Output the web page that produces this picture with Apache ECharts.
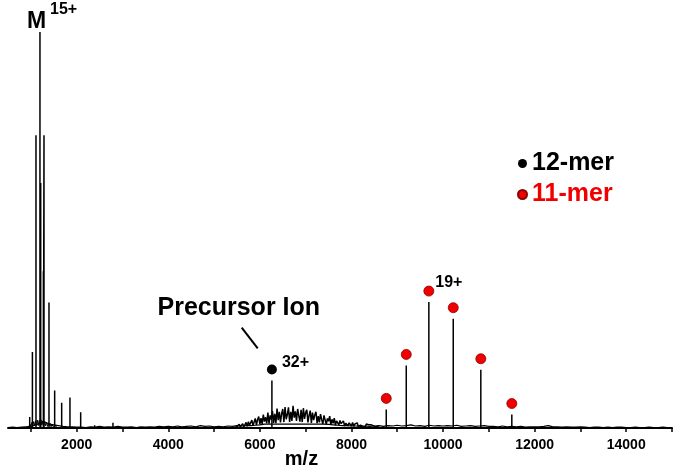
<!DOCTYPE html>
<html>
<head>
<meta charset="utf-8">
<script src="https://cdn.jsdelivr.net/npm/echarts@6/dist/echarts.min.js"></script>
<style>html,body{margin:0;padding:0;background:#fff;}#c{width:681px;height:474px;}</style>
</head>
<body>
<div id="c"></div>
<script>
// ---- data (intensity: % of tallest peak) ----
const xTicks = [1000,2000,3000,4000,5000,6000,7000,8000,9000,10000,11000,12000,13000,14000,15000];
const xTickLabels = [2000,4000,6000,8000,10000,12000,14000];
const xAxisTitle = 'm/z';

// discrete peaks [m/z, intensity]
const peaks = [[974,2.8],[1033,19.2],[1111,73.9],[1198,100],[1214,61.9],[1273,39.6],[1286,73.9],
  [1395,31.7],[1519,9.5],[1672,6.4],[1853,7.7],[2087,4.0],[2392,0.7],[2792,1.3],
  [6263,12.0],[8760,4.7],[9197,15.8],[9690,31.8],[10223,27.6],[10825,14.7],[11502,3.4]];

const dodecamerMz = [6263];                                  // 12-mer
const undecamerMz = [8760,9197,9690,10223,10825,11502];      // 11-mer
const chargeLabels = [[6263,'32+'],[9690,'19+']];

// baseline noise, every 100 from 500
const baseStart = 500, baseStep = 100;
const baseNoise = [0.1,0.2,0.1,0.2,0.3,0.4,
  0.8,1.2,1.5,1.0,0.8,0.6,0.4,0.3,0.3,0.2,
  0.2,0.1,0.3,0.2,0.4,0.2,0.3,0.2,0.4,0.2,
  0.2,0.3,0.1,0.3,0.2,0.3,0.2,0.4,0.3,0.4,
  0.3,0.5,0.3,0.4,0.5,0.3,0.6,0.4,0.5,0.3,
  0.4,0.3,0.5,0.4,0.6,0.5,0.6,0.6,0.7,0.8,
  1.0,1.0,1.0,1.0,1.0,1.0,1.0,1.0,1.0,1.0,
  1.0,1.0,1.0,1.0,0.9,0.8,0.7,0.6,0.6,0.5,
  0.5,0.4,0.5,0.4,0.5,0.6,0.4,0.6,0.5,0.7,
  0.5,0.6,0.8,0.5,0.6,0.4,0.7,0.5,0.6,0.5,
  0.6,0.5,0.7,0.4,0.5,0.6,0.4,0.5,0.6,0.4,
  0.4,0.3,0.5,0.3,0.4,0.3,0.4,0.2,0.3,0.3,
  0.3,0.4,0.6,0.3,0.3,0.2,0.3,0.2,0.2,0.3,
  0.2,0.1,0.2,0.2,0.1,0.2,0.1,0.2,0.2,0.1,
  0.1,0.2,0.1,0.1,0.2,0.1,0.1,0.2,0.1,0.1];

// low-mass chemical noise cluster, every 20 from 960
const clusterStart = 960, clusterStep = 20;
const clusterNoise = [0.4,1.0,0.3,1.4,0.5,1.6,0.6,1.8,0.7,2.0,0.6,1.9,0.8,2.1,0.7,1.8,
  0.5,1.7,0.6,1.5,0.4,1.3,0.5,1.2,0.3,1.0,0.4,0.8,0.3,0.6,0.2];

// broad hump under the precursor, every 25 from 5400
const humpStart = 5400, humpStep = 25;
const humpNoise = [0.2,0.5,0.1,0.6,0.4,0.2,0.9,0.3,0.5,
  1.1,0.3,0.8,1.4,0.4,1.6,0.7,0.9,
  2.0,0.6,1.5,2.4,0.8,2.1,2.9,0.9,
  2.5,1.0,3.4,1.6,2.7,1.2,3.9,1.1,
  3.2,2.1,4.3,1.3,3.6,1.2,4.9,2.0,
  4.1,1.4,3.6,4.8,1.5,5.3,2.2,3.4,
  5.2,1.5,4.1,1.8,5.6,2.6,4.2,1.8,
  4.8,3.1,1.6,4.6,1.5,5.0,2.3,3.9,
  4.6,1.4,3.2,4.4,1.3,3.9,2.0,3.3,
  4.1,1.2,3.0,1.4,3.5,2.1,1.0,3.2,
  2.8,0.9,2.4,1.7,3.0,0.8,2.2,1.2,
  2.5,0.7,1.8,2.2,0.8,1.9,1.1,0.6,
  1.8,0.5,1.2,1.7,0.6,1.3,0.9,0.5,
  1.4,0.4,1.0,0.6,1.3,0.4,0.9,0.7,
  1.1,0.4,0.7,0.3,1.0,0.5,0.8,0.3,
  0.8,0.3,0.6,0.5,0.3,0.6,0.3,0.2];

// ---- build series data ----
const toXY = (start, step, arr) => arr.map((v, i) => [start + i * step, v]);
const stickData = [];
peaks.forEach(([x, y]) => { stickData.push([x, 0], [x, y], [x, 0]); });
const intensityAt = mz => peaks.find(p => p[0] === mz)[1];
const labelFor = mz => { const l = chargeLabels.find(c => c[0] === mz); return l ? l[1] : null; };
const markData = mzs => mzs.map(mz => {
  const lab = labelFor(mz);
  const item = { value: [mz, intensityAt(mz)] };
  if (lab) item.label = { show: true, formatter: lab };
  return item;
});

const FONT = '"Liberation Sans", Arial, sans-serif';
const RED = '#f00000';
const chart = echarts.init(document.getElementById('c'));
chart.setOption({
  animation: false,
  backgroundColor: '#fff',
  grid: { left: 8, right: 9, top: 32, bottom: 46, containLabel: false, outerBoundsMode: 'none' },
  xAxis: {
    type: 'value', min: 500, max: 15000,
    axisLine: { show: true, onZero: false, lineStyle: { color: '#000', width: 2 } },
    axisTick: { show: true, customValues: xTicks, length: 4, lineStyle: { color: '#000', width: 1.5 } },
    axisLabel: { customValues: xTickLabels, formatter: v => String(v), fontFamily: FONT, fontWeight: 'bold', fontSize: 14, color: '#000', margin: 10 },
    splitLine: { show: false }
  },
  yAxis: { type: 'value', min: 0, max: 100, show: false },
  legend: {
    orient: 'vertical', left: 512, top: 146, itemGap: 6, itemWidth: 9, itemHeight: 9,
    selectedMode: false, icon: 'circle',
    data: [
      { name: '12-mer', textStyle: { color: '#000' } },
      { name: '11-mer', textStyle: { color: RED } }
    ],
    textStyle: { fontFamily: FONT, fontWeight: 'bold', fontSize: 25 }
  },
  series: [
    { type: 'line', data: toXY(baseStart, baseStep, baseNoise), showSymbol: false, symbol: 'none',
      lineStyle: { color: '#000', width: 1.2 }, z: 2, silent: true },
    { type: 'line', data: toXY(clusterStart, clusterStep, clusterNoise), showSymbol: false, symbol: 'none',
      lineStyle: { color: '#000', width: 1 }, z: 2, silent: true },
    { type: 'line', data: toXY(humpStart, humpStep, humpNoise), showSymbol: false, symbol: 'none',
      lineStyle: { color: '#000', width: 1.5 }, z: 2, silent: true },
    { type: 'line', data: stickData, showSymbol: false, symbol: 'none',
      lineStyle: { color: '#000', width: 1.5 }, z: 3, silent: true },
    { name: '12-mer', type: 'scatter', data: markData(dodecamerMz), symbol: 'circle', symbolSize: 10,
      symbolOffset: [0, -11], itemStyle: { color: '#000', opacity: 1 }, z: 5,
      label: { position: 'right', distance: 5, offset: [0, -7], fontFamily: FONT, fontWeight: 'bold', fontSize: 16, color: '#000' } },
    { name: '11-mer', type: 'scatter', data: markData(undecamerMz), symbol: 'circle', symbolSize: 10,
      symbolOffset: [0, -11], itemStyle: { color: RED, borderColor: '#8a0000', borderWidth: 0.8, opacity: 1 }, z: 5,
      label: { position: 'right', distance: 1, offset: [0, -8], fontFamily: FONT, fontWeight: 'bold', fontSize: 16, color: '#000' } }
  ],
  graphic: [
    { type: 'text', x: 27, y: 21.5, style: { text: 'M', font: 'bold 23px ' + FONT, fill: '#000', verticalAlign: 'middle' } },
    { type: 'text', x: 50, y: 10, style: { text: '15+', font: 'bold 16px ' + FONT, fill: '#000', verticalAlign: 'middle' } },
    { type: 'text', x: 157.5, y: 308.6, style: { text: 'Precursor Ion', font: 'bold 25px ' + FONT, fill: '#000', verticalAlign: 'middle' } },
    { type: 'line', shape: { x1: 241.7, y1: 327.7, x2: 257.7, y2: 348.3 }, style: { stroke: '#000', lineWidth: 2 } },
    { type: 'text', x: 301.5, y: 459, style: { text: xAxisTitle, font: 'bold 20px ' + FONT, fill: '#000', align: 'center', verticalAlign: 'middle' } }
  ]
});
</script>
</body>
</html>
